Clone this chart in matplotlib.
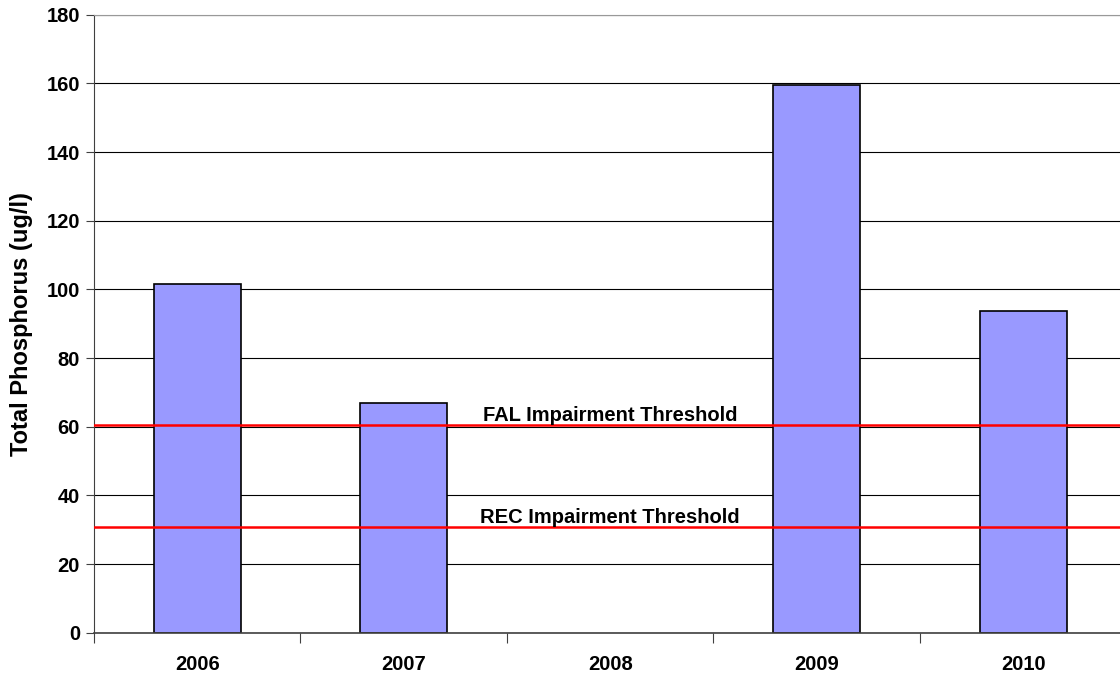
import numpy as np
import matplotlib.pyplot as plt

plt.rcParams['font.family'] = ['Liberation Sans', 'DejaVu Sans']
plt.rcParams['font.weight'] = 'bold'

years = ['2006', '2007', '2008', '2009', '2010']
phosphorus = [101.6, 67.0, np.nan, 159.4, 93.7]
fal_threshold = 60.5
rec_threshold = 30.8
yticks = [0, 20, 40, 60, 80, 100, 120, 140, 160, 180]

fig = plt.figure(figsize=(11.2, 6.79), dpi=100)
ax = fig.add_axes([0.0839, 0.0682, 0.9219, 0.9102])

x = np.arange(len(years))
ax.set_axisbelow(True)
ax.yaxis.grid(True, color='black', linewidth=0.8)
ax.bar(x, phosphorus, width=0.42, color='#9999FF', edgecolor='black', linewidth=1.2, zorder=2)

ax.axhline(fal_threshold, color='red', linewidth=1.8, zorder=3)
ax.axhline(rec_threshold, color='red', linewidth=1.8, zorder=3)
ax.text(2, fal_threshold, 'FAL Impairment Threshold', ha='center', va='bottom',
        fontsize=14.5, fontweight='bold')
ax.text(2, rec_threshold, 'REC Impairment Threshold', ha='center', va='bottom',
        fontsize=14.5, fontweight='bold')

ax.set_xlim(-0.5, len(years) - 0.5)
ax.set_ylim(0, 180)
ax.set_yticks(yticks)
ax.tick_params(axis='y', labelsize=14.5, length=6, color='#404040', pad=4)

# boundary ticks, labels at centres
ax.set_xticks(np.arange(len(years) + 1) - 0.5)
ax.set_xticklabels([])
ax.set_xticks(x, minor=True)
ax.set_xticklabels(years, minor=True)
ax.tick_params(axis='x', which='major', length=7, color='#404040')
ax.tick_params(axis='x', which='minor', length=0, labelsize=14.5, pad=16)
for lbl in ax.get_yticklabels() + ax.get_xticklabels(minor=True):
    lbl.set_fontweight('bold')

ax.set_ylabel('Total Phosphorus (ug/l)', fontsize=17, fontweight='bold', labelpad=10)

ax.spines['left'].set_color('#404040')
ax.spines['bottom'].set_color('#404040')
ax.spines['bottom'].set_linewidth(1.2)
ax.spines['top'].set_color('#999999')
ax.spines['right'].set_visible(False)

fig.savefig('out.png', dpi=100)
